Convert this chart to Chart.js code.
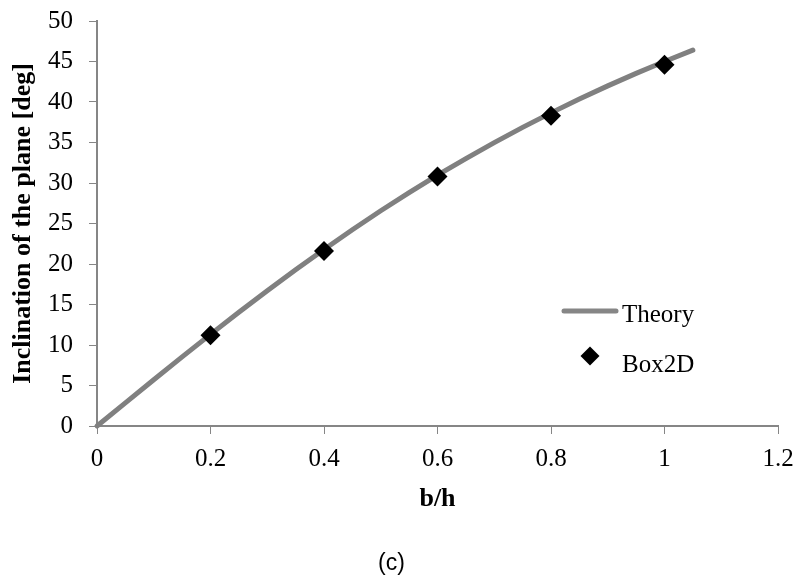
<!DOCTYPE html>
<html>
<head>
<meta charset="utf-8">
<script src="https://cdn.jsdelivr.net/npm/chart.js@4/dist/chart.umd.min.js"></script>
<style>
    html, body { margin: 0; padding: 0; background: #fff; }
    #wrap { width: 799px; height: 581px; }
</style>
</head>
<body>
<div id="wrap"><canvas id="chart" width="799" height="581"></canvas></div>
<script>
// theory curve, b/h against inclination in degrees
const theoryX = [0, 0.05, 0.1, 0.15, 0.2, 0.25, 0.3, 0.35, 0.4, 0.45, 0.5,
    0.55, 0.6, 0.65, 0.7, 0.75, 0.8, 0.85, 0.9, 0.95, 1.0, 1.05];
const theoryY = [0, 2.86, 5.71, 8.53, 11.31, 14.04, 16.7, 19.29, 21.8, 24.23, 26.57,
    28.81, 30.96, 33.02, 34.99, 36.87, 38.66, 40.36, 41.99, 43.53, 45.0, 46.4];

// simulation results
const box2dX = [0.2, 0.4, 0.6, 0.8, 1.0];
const box2dY = [11.2, 21.6, 30.8, 38.3, 44.6];

const xTickLabels = ['0', '0.2', '0.4', '0.6', '0.8', '1', '1.2'];
const yTickLabels = ['0', '5', '10', '15', '20', '25', '30', '35', '40', '45', '50'];

const GREY = '#868686';
const SERIF = '"Liberation Serif", "Times New Roman", serif';

const toPoints = (xs, ys) => xs.map((x, i) => ({ x: x, y: ys[i] }));

// legend sits inside the plot, plus the "(c)" caption underneath
const legendPlugin = {
    id: 'innerLegend',
    afterDraw(chart) {
        const ctx = chart.ctx;
        ctx.save();

        ctx.strokeStyle = GREY;
        ctx.lineWidth = 5;
        ctx.lineCap = 'round';
        ctx.beginPath();
        ctx.moveTo(564, 311);
        ctx.lineTo(616, 311);
        ctx.stroke();

        const cx = 590, cy = 356, r = 9.5;
        ctx.fillStyle = '#000';
        ctx.beginPath();
        ctx.moveTo(cx, cy - r);
        ctx.lineTo(cx + r, cy);
        ctx.lineTo(cx, cy + r);
        ctx.lineTo(cx - r, cy);
        ctx.closePath();
        ctx.fill();

        ctx.font = '25px ' + SERIF;
        ctx.textAlign = 'left';
        ctx.textBaseline = 'alphabetic';
        ctx.fillText('Theory', 622, 322);
        ctx.fillText('Box2D', 622, 372);

        ctx.font = '23px "Liberation Sans", Arial, sans-serif';
        ctx.textAlign = 'center';
        ctx.fillText('(c)', 391.5, 570);
        ctx.restore();
    }
};

const ctx = document.getElementById('chart').getContext('2d');
const myChart = new Chart(ctx, {
    type: 'scatter',
    data: {
        datasets: [
            {
                label: 'Box2D',
                data: toPoints(box2dX, box2dY),
                showLine: false,
                pointStyle: 'rectRot',
                pointRadius: 10,
                pointHoverRadius: 10,
                backgroundColor: '#000',
                borderColor: '#000',
                borderWidth: 0,
                order: 1,
            },
            {
                label: 'Theory',
                data: toPoints(theoryX, theoryY),
                showLine: true,
                borderColor: '#808080',
                borderWidth: 5,
                borderCapStyle: 'round',
                borderJoinStyle: 'round',
                pointRadius: 0,
                pointHoverRadius: 0,
                tension: 0,
                clip: false,
                order: 2,
            },
        ],
    },
    options: {
        responsive: false,
        animation: false,
        layout: {
            padding: { top: 21, right: 21, left: 4, bottom: 62 },
        },
        plugins: {
            legend: { display: false },
            tooltip: { enabled: false },
        },
        scales: {
            x: {
                type: 'linear',
                min: 0,
                max: 1.2,
                ticks: {
                    stepSize: 0.2,
                    color: '#000',
                    padding: 10,
                    font: { family: SERIF, size: 25 },
                    callback: (v, i) => xTickLabels[i],
                },
                grid: {
                    drawOnChartArea: false,
                    drawTicks: true,
                    tickLength: 8,
                    color: GREY,
                    lineWidth: 1,
                },
                border: { display: true, color: GREY, width: 2 },
                title: {
                    display: true,
                    text: 'b/h',
                    color: '#000',
                    padding: { top: 4, bottom: 4 },
                    font: { family: SERIF, size: 26, weight: 'bold' },
                },
                afterFit: (scale) => {
                    scale.height = 93;
                    scale.paddingLeft = 0;
                    scale.paddingRight = 0;
                },
            },
            y: {
                type: 'linear',
                min: 0,
                max: 50,
                ticks: {
                    stepSize: 5,
                    color: '#000',
                    padding: 16,
                    font: { family: SERIF, size: 25 },
                    callback: (v, i) => yTickLabels[i],
                },
                grid: {
                    drawOnChartArea: false,
                    drawTicks: true,
                    tickLength: 8,
                    color: GREY,
                    lineWidth: 1,
                },
                border: { display: true, color: GREY, width: 2 },
                title: {
                    display: true,
                    text: 'Inclination of the plane [deg]',
                    color: '#000',
                    padding: { top: 4, bottom: 4 },
                    font: { family: SERIF, size: 26, weight: 'bold' },
                },
                afterFit: (scale) => {
                    scale.width = 93;
                    scale.paddingTop = 0;
                    scale.paddingBottom = 0;
                },
            },
        },
    },
    plugins: [legendPlugin],
});
</script>
</body>
</html>
